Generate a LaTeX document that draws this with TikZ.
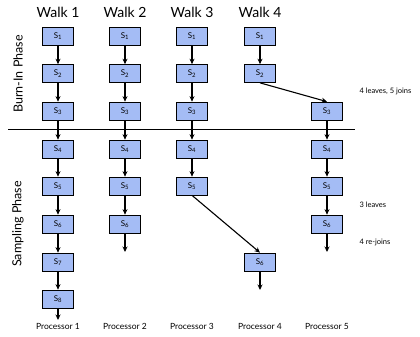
\documentclass[tikz,border=0pt]{standalone}
\usepackage{fontspec}
\setmainfont{Lato}
\usetikzlibrary{arrows.meta}
\definecolor{boxfill}{RGB}{164,188,245}
\tikzset{
  sbox/.style={draw=black,line width=0.7pt,fill=boxfill,minimum width=31pt,minimum height=18pt,inner sep=0pt,font=\fontsize{8}{9}\selectfont},
  arr/.style={-{Stealth[length=5.5pt,width=5pt]},line width=1.1pt},
  title/.style={font=\fontsize{14}{16}\selectfont},
  proc/.style={font=\fontsize{8.5}{10}\selectfont},
  note/.style={font=\fontsize{7.5}{9}\selectfont,anchor=west},
  phase/.style={font=\fontsize{12.5}{14}\selectfont,rotate=90}
}
\newcommand{\stlab}[1]{S\textsubscript{#1}}
\begin{document}
\begin{tikzpicture}[x=1pt,y=-1pt]
\useasboundingbox (0,0) rectangle (420,337);
% columns
\def\ca{58}\def\cb{125}\def\cc{192}\def\cd{260}\def\ce{327}
% titles
\node[title] (t1) at (\ca,12) {Walk 1};
\node[title] (t2) at (\cb,12) {Walk 2};
\node[title] (t3) at (\cc,12) {Walk 3};
\node[title] (t4) at (\cd,12) {Walk 4};
% phase labels
\node[phase] (burn) at (18,74) {Burn-In Phase};
\node[phase] (samp) at (18,224) {Sampling Phase};
% divider
\coordinate (dl) at (8,129);
\coordinate (dr) at (355,129);
\draw[line width=1pt] (dl) -- (dr);
% walk 1
\node[sbox] (a1) at (\ca,36) {\stlab1};
\node[sbox] (a2) at (\ca,73.5) {\stlab2};
\node[sbox] (a3) at (\ca,111) {\stlab3};
\node[sbox] (a4) at (\ca,149) {\stlab4};
\node[sbox] (a5) at (\ca,186) {\stlab5};
\node[sbox] (a6) at (\ca,224) {\stlab6};
\node[sbox] (a7) at (\ca,262) {\stlab7};
\node[sbox] (a8) at (\ca,299) {\stlab8};
\coordinate (ae) at (\ca,320);
% walk 2
\node[sbox] (b1) at (\cb,36) {\stlab1};
\node[sbox] (b2) at (\cb,73.5) {\stlab2};
\node[sbox] (b3) at (\cb,111) {\stlab3};
\node[sbox] (b4) at (\cb,149) {\stlab4};
\node[sbox] (b5) at (\cb,186) {\stlab5};
\node[sbox] (b6) at (\cb,224) {\stlab6};
\coordinate (be) at (\cb,252);
% walk 3
\node[sbox] (c1) at (\cc,36) {\stlab1};
\node[sbox] (c2) at (\cc,73.5) {\stlab2};
\node[sbox] (c3) at (\cc,111) {\stlab3};
\node[sbox] (c4) at (\cc,149) {\stlab4};
\node[sbox] (c5) at (\cc,186) {\stlab5};
% walk 4
\node[sbox] (d1) at (\cd,36) {\stlab1};
\node[sbox] (d2) at (\cd,73.5) {\stlab2};
\node[sbox] (d6) at (\cd,262) {\stlab6};
\coordinate (de) at (\cd,290);
% walk 5
\node[sbox] (e3) at (\ce,111) {\stlab3};
\node[sbox] (e4) at (\ce,149) {\stlab4};
\node[sbox] (e5) at (\ce,186) {\stlab5};
\node[sbox] (e6) at (\ce,224) {\stlab6};
\coordinate (ee) at (\ce,252);
% arrows
\foreach \p/\q in {a1/a2,a2/a3,a3/a4,a4/a5,a5/a6,a6/a7,a7/a8,a8/ae,
                   b1/b2,b2/b3,b3/b4,b4/b5,b5/b6,b6/be,
                   c1/c2,c2/c3,c3/c4,c4/c5,
                   d1/d2,d6/de,
                   e3/e4,e4/e5,e5/e6,e6/ee}
  \draw[arr] (\p) -- (\q);
\draw[arr] (d2.south) -- (e3.north);
\draw[arr] (c5.south) -- (d6.north);
% notes
\node[note] (n1) at (356,91) {4 leaves, 5 joins};
\node[note] (n2) at (356,205) {3 leaves};
\node[note] (n3) at (356,242) {4 re-joins};
% processors
\node[proc] (p1) at (\ca,326) {Processor 1};
\node[proc] (p2) at (\cb,326) {Processor 2};
\node[proc] (p3) at (\cc,326) {Processor 3};
\node[proc] (p4) at (\cd,326) {Processor 4};
\node[proc] (p5) at (\ce,326) {Processor 5};
\end{tikzpicture}
\end{document}
